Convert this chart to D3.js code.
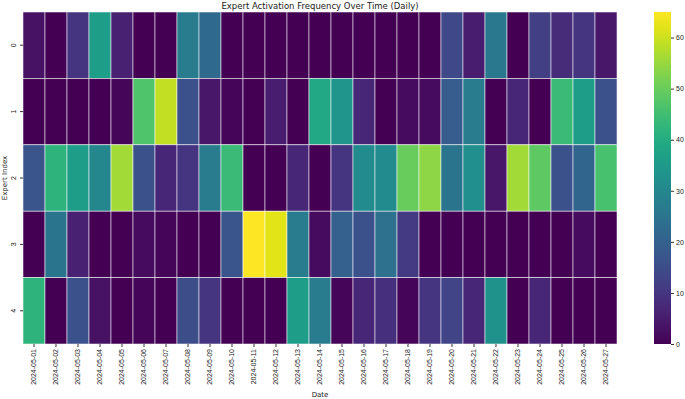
<!DOCTYPE html>
<html>
<head>
<meta charset="utf-8">
<script src="https://cdn.jsdelivr.net/npm/d3@7"></script>
<style>
  body { margin: 0; background: #fff; }
  svg { font-family: 'DejaVu Sans', sans-serif; }
</style>
</head>
<body>
<div id="svg-container"></div>
<script>
const dates = d3.range(1, 28).map(d => `2024-05-${String(d).padStart(2, '0')}`)
const experts = ['0', '1', '2', '3', '4']

// activation counts per expert, one value per date
const expert0 = [3, 0, 10, 36, 6, 0, 0, 27, 22, 0, 0, 0, 0, 0, 0, 0, 0, 0, 0, 14, 5, 26, 0, 12, 8, 10, 4]
const expert1 = [0, 0, 0, 0, 1, 47, 59, 16, 4, 1, 0, 5, 0, 39, 34, 7, 0, 2, 2, 19, 27, 0, 7, 0, 44, 36, 16]
const expert2 = [17, 42, 36, 30, 56, 16, 7, 10, 27, 44, 0, 0, 7, 0, 10, 31, 31, 50, 54, 25, 32, 4, 56, 49, 16, 21, 46]
const expert3 = [0, 25, 6, 0, 0, 2, 1, 0, 0, 17, 65, 62, 27, 2, 20, 16, 24, 11, 0, 0, 0, 0, 0, 0, 0, 2, 0]
const expert4 = [42, 0, 16, 3, 0, 1, 0, 15, 10, 0, 0, 0, 36, 27, 1, 7, 9, 1, 10, 13, 7, 33, 0, 7, 0, 0, 0]
const colorTicks = [0, 10, 20, 30, 40, 50, 60]

const rows = [expert0, expert1, expert2, expert3, expert4]
const cells = []
rows.forEach((r, i) => r.forEach((v, j) => cells.push({ expert: experts[i], date: dates[j], value: v })))

const width = 685
const height = 399
const plot = { left: 23, right: 617, top: 12, bottom: 344 }
const bar = { left: 654, right: 671 }

const svg = d3.select('#svg-container').append('svg')
  .attr('width', width).attr('height', height)

const xScale = d3.scaleBand().domain(dates).range([plot.left, plot.right])
const yScale = d3.scaleBand().domain(experts).range([plot.top, plot.bottom])
const vmax = d3.max(cells, d => d.value)
const color = d3.scaleSequential(d3.interpolateViridis).domain([0, vmax])

svg.append('g')
  .selectAll('rect')
  .data(cells)
  .join('rect')
  .attr('x', d => xScale(d.date))
  .attr('y', d => yScale(d.expert))
  .attr('width', xScale.bandwidth())
  .attr('height', yScale.bandwidth())
  .attr('fill', d => color(d.value))
  .attr('stroke', 'rgba(255,255,255,0.75)')
  .attr('stroke-width', 0.7)

// x axis
svg.append('g')
  .attr('transform', `translate(0, ${plot.bottom})`)
  .call(d3.axisBottom(xScale).tickSize(3).tickSizeOuter(0))
  .call(g => {
    g.select('.domain').remove()
    g.selectAll('.tick line').attr('stroke', '#333')
    g.selectAll('.tick text')
      .attr('fill', '#222')
      .style('font-size', '7px')
      .attr('transform', 'rotate(-90)')
      .attr('text-anchor', 'end')
      .attr('x', -5).attr('y', 0).attr('dy', '0.32em')
  })

// y axis
svg.append('g')
  .attr('transform', `translate(${plot.left}, 0)`)
  .call(d3.axisLeft(yScale).tickSize(3).tickSizeOuter(0))
  .call(g => {
    g.select('.domain').remove()
    g.selectAll('.tick line').attr('stroke', '#333')
    g.selectAll('.tick text')
      .attr('fill', '#222')
      .style('font-size', '7px')
      .attr('transform', 'rotate(-90)')
      .attr('text-anchor', 'middle')
      .attr('x', 0).attr('y', -7).attr('dy', 0)
  })

// labels
svg.append('text')
  .attr('x', (plot.left + plot.right) / 2).attr('y', 9)
  .attr('text-anchor', 'middle')
  .style('font-size', '8.5px').attr('fill', '#222')
  .text('Expert Activation Frequency Over Time (Daily)')

svg.append('text')
  .attr('x', (plot.left + plot.right) / 2).attr('y', 397)
  .attr('text-anchor', 'middle')
  .style('font-size', '7px').attr('fill', '#222')
  .text('Date')

svg.append('text')
  .attr('transform', `translate(7, ${(plot.top + plot.bottom) / 2}) rotate(-90)`)
  .attr('text-anchor', 'middle')
  .style('font-size', '7px').attr('fill', '#222')
  .text('Expert Index')

// colorbar
const defs = svg.append('defs')
const grad = defs.append('linearGradient').attr('id', 'cbar')
  .attr('x1', 0).attr('y1', 1).attr('x2', 0).attr('y2', 0)
grad.selectAll('stop')
  .data(d3.range(0, 1.0001, 0.05))
  .join('stop')
  .attr('offset', d => d)
  .attr('stop-color', d => d3.interpolateViridis(d))

svg.append('rect')
  .attr('x', bar.left).attr('y', plot.top)
  .attr('width', bar.right - bar.left).attr('height', plot.bottom - plot.top)
  .attr('fill', 'url(#cbar)')

const cScale = d3.scaleLinear().domain([0, vmax]).range([plot.bottom, plot.top])
svg.append('g')
  .attr('transform', `translate(${bar.right}, 0)`)
  .call(d3.axisRight(cScale).tickValues(colorTicks).tickSize(3))
  .call(g => {
    g.select('.domain').remove()
    g.selectAll('.tick line').attr('stroke', '#333')
    g.selectAll('.tick text').attr('fill', '#222').style('font-size', '7px').attr('x', 5)
  })
</script>
</body>
</html>
